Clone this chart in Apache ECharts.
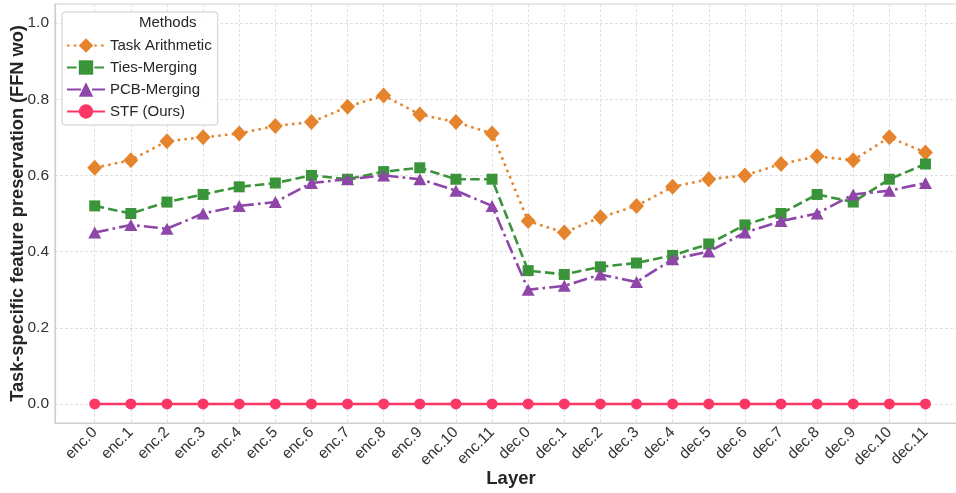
<!DOCTYPE html>
<html>
<head>
<meta charset="utf-8">
<script src="https://cdn.jsdelivr.net/npm/echarts@6/dist/echarts.min.js"></script>
<style>
html,body{margin:0;padding:0;background:#fff;}
#chart{width:956px;height:493px;}
</style>
</head>
<body>
<div id="chart"></div>
<script>
const categories = ["enc.0","enc.1","enc.2","enc.3","enc.4","enc.5","enc.6","enc.7","enc.8","enc.9","enc.10","enc.11",
  "dec.0","dec.1","dec.2","dec.3","dec.4","dec.5","dec.6","dec.7","dec.8","dec.9","dec.10","dec.11"];
const taskArithmetic = [0.62,0.64,0.69,0.70,0.71,0.73,0.74,0.78,0.81,0.76,0.74,0.71,0.48,0.45,0.49,0.52,0.57,0.59,0.60,0.63,0.65,0.64,0.70,0.66];
const tiesMerging = [0.52,0.50,0.53,0.55,0.57,0.58,0.60,0.59,0.61,0.62,0.59,0.59,0.35,0.34,0.36,0.37,0.39,0.42,0.47,0.50,0.55,0.53,0.59,0.63];
const pcbMerging = [0.45,0.47,0.46,0.50,0.52,0.53,0.58,0.59,0.60,0.59,0.56,0.52,0.30,0.31,0.34,0.32,0.38,0.40,0.45,0.48,0.50,0.55,0.56,0.58];
const stfOurs = [0,0,0,0,0,0,0,0,0,0,0,0,0,0,0,0,0,0,0,0,0,0,0,0];
const yTicks = [0.0,0.2,0.4,0.6,0.8,1.0];
const seriesNames = ["Task Arithmetic","Ties-Merging","PCB-Merging","STF (Ours)"];

const FONT = "Liberation Sans, Arial, sans-serif";
const idx = categories.map((c,i)=>i);
const toPts = arr => arr.map((v,i)=>[i,v]);

const chart = echarts.init(document.getElementById('chart'), null, {renderer:'canvas'});
const gridLine = {show:true, lineStyle:{color:'#d9d9d9', type:[3,2], width:0.8}};

const option = {
  backgroundColor:'#ffffff',
  animation:false,
  textStyle:{fontFamily:FONT},
  grid:{left:55, top:4, right:-11, bottom:70, containLabel:false, outerBoundsMode:'none',
        show:true, borderColor:'#cfcfcf', borderWidth:1.2, backgroundColor:'transparent'},
  xAxis:{
    type:'value', min:-1.1, max:24.15,
    axisLine:{show:true, onZero:false, lineStyle:{color:'#cfcfcf', width:1.2}},
    axisTick:{show:false, customValues:idx},
    splitLine:gridLine,
    axisLabel:{customValues:idx, formatter:v=>categories[Math.round(v)] || '', rotate:45, color:'#333', fontSize:15.5, fontFamily:FONT, margin:7},
    name:'Layer', nameLocation:'middle', nameGap:46, nameMoveOverlap:false,
    nameTextStyle:{fontSize:18.5, fontWeight:'bold', color:'#262626', fontFamily:FONT}
  },
  yAxis:{
    type:'value', min:-0.05, max:1.05,
    axisLine:{show:true, onZero:false, lineStyle:{color:'#cfcfcf', width:1.2}},
    axisTick:{show:false, customValues:yTicks},
    splitLine:gridLine,
    axisLabel:{customValues:yTicks, formatter:v=>v.toFixed(1), color:'#333', fontSize:15.5, fontFamily:FONT, margin:6},
    name:'Task-specific feature preservation (FFN wo)', nameLocation:'middle', nameGap:28, nameMoveOverlap:false,
    nameTextStyle:{fontSize:18.2, fontWeight:'bold', color:'#262626', fontFamily:FONT}
  },
  legend:{
    orient:'vertical', left:62, top:12,
    padding:[26,6,6,4], itemGap:7, itemWidth:38, itemHeight:18,
    backgroundColor:'rgba(255,255,255,0.9)', borderColor:'#cccccc', borderWidth:1, borderRadius:3,
    textStyle:{fontSize:15, color:'#262626', fontFamily:FONT},
    data:seriesNames
  },
  graphic:[{type:'text', left:139, top:15, z:100, style:{text:'Methods', fontSize:15, fill:'#262626', fontFamily:FONT}}],
  series:[
    {name:seriesNames[0], type:'line', data:toPts(taskArithmetic), symbol:'diamond', symbolSize:[15,16],
     itemStyle:{color:'#e6842e'}, lineStyle:{color:'#e6842e', width:2.6, type:[2.6,4.2]}, z:3},
    {name:seriesNames[1], type:'line', data:toPts(tiesMerging), symbol:'rect', symbolSize:11,
     itemStyle:{color:'#3a9439'}, lineStyle:{color:'#3a9439', width:2.6, type:[9.5,4.2]}, z:4},
    {name:seriesNames[2], type:'line', data:toPts(pcbMerging), symbol:'triangle', symbolSize:[13,12],
     itemStyle:{color:'#8e46a9'}, lineStyle:{color:'#8e46a9', width:2.6, type:[14,4.2,2.6,4.2]}, z:5},
    {name:seriesNames[3], type:'line', data:toPts(stfOurs), symbol:'circle', symbolSize:11,
     itemStyle:{color:'#fb3766'}, lineStyle:{color:'#fb3766', width:2.6, type:'solid'}, z:6}
  ]
};
chart.setOption(option);
</script>
</body>
</html>
